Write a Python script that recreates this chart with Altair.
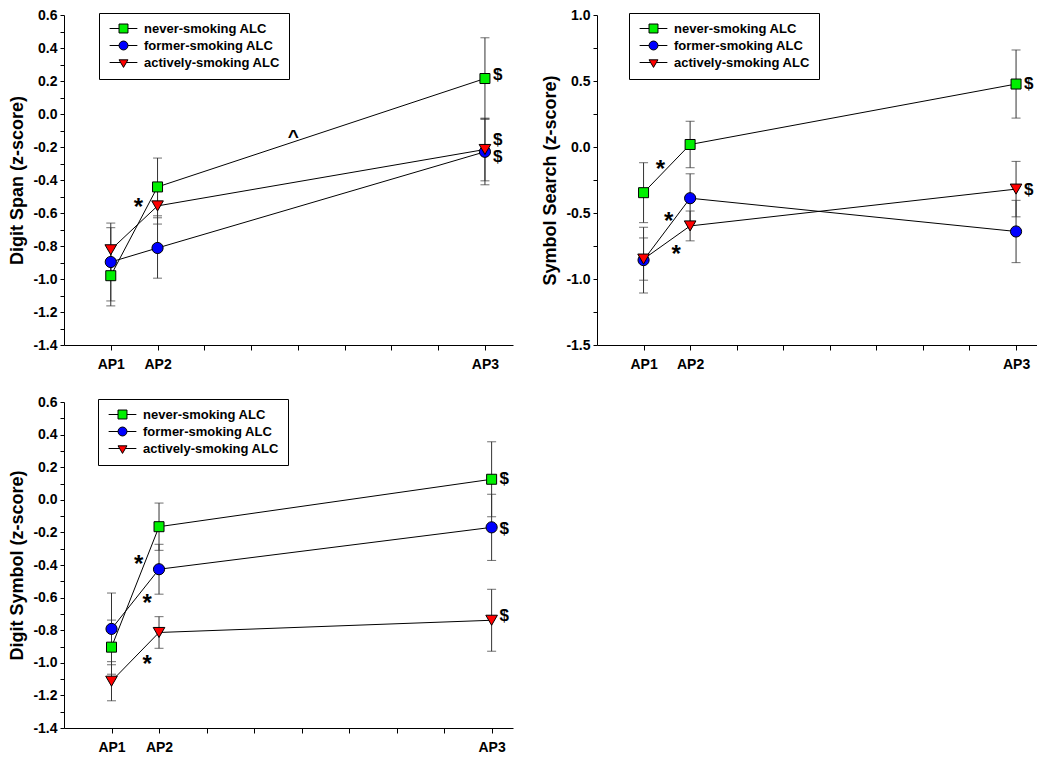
import altair as alt
import pandas as pd

# ---------------- data ----------------
groups = ["never-smoking ALC", "former-smoking ALC", "actively-smoking ALC"]
group_colors = ["#00f000", "#0000ff", "#ff0000"]
group_shapes = ["square", "circle", "triangle-down"]
group_sizes = [100, 125, 135]
legend_paths = [
    "M-3.1,0H-1M1,0H3.1M-1,-1H1V1H-1Z",
    "M-3.1,0H-1M1,0H3.1M-1,0A1,1,0,1,1,1,0A1,1,0,1,1,-1,0Z",
    "M-3.1,0H-0.65M0.65,0H3.1M-1,-0.6L1,-0.6L0,1.1Z",
]
tp_x = [1, 2, 9]
tp_labels = ["AP1", "AP2", "AP3"]

# Digit Span
ds_never = [-0.98, -0.442, 0.215]
ds_never_err = [0.183, 0.175, 0.247]
ds_former = [-0.897, -0.812, -0.229]
ds_former_err = [0.236, 0.183, 0.20]
ds_active = [-0.823, -0.557, -0.215]
ds_active_err = [0.134, 0.11, 0.19]
ds_dollar_y = [0.239, -0.156, -0.259]
ds_star_x = [1.59]
ds_star_y = [-0.531]
ds_caret_x = [4.9]
ds_caret_y = [-0.107]

# Symbol Search
ss_never = [-0.346, 0.019, 0.477]
ss_never_err = [0.227, 0.176, 0.258]
ss_former = [-0.857, -0.388, -0.64]
ss_former_err = [0.249, 0.185, 0.236]
ss_active = [-0.849, -0.598, -0.319]
ss_active_err = [0.16, 0.113, 0.21]
ss_dollar_y = [0.477, -0.326]
ss_star_x = [1.36, 1.54, 1.70]
ss_star_y = [-0.129, -0.524, -0.775]

# Digit Symbol
dsy_never = [-0.904, -0.165, 0.126]
dsy_never_err = [0.166, 0.145, 0.23]
dsy_former = [-0.792, -0.426, -0.169]
dsy_former_err = [0.22, 0.153, 0.203]
dsy_active = [-1.113, -0.814, -0.739]
dsy_active_err = [0.12, 0.097, 0.19]
dsy_dollar_y = [0.126, -0.177, -0.715]
dsy_star_x = [1.57, 1.75, 1.75]
dsy_star_y = [-0.366, -0.605, -0.978]

FONT = "Liberation Sans"
BAR = "#333333"


def panel(means, errs, y_title, y_dom, y_step, x_max, w, h,
          dollar_y, star_x, star_y, legend_xy, caret_x=None, caret_y=None):
    rows = []
    for gi, g in enumerate(groups):
        for ti in range(3):
            m = means[gi][ti]
            e = errs[gi][ti]
            rows.append(dict(group=g, x=tp_x[ti], mean=m, lo=m - e, hi=m + e,
                             fillc=group_colors[gi], shp=group_shapes[gi],
                             sz=group_sizes[gi]))
    df = pd.DataFrame(rows)

    xs = alt.Scale(domain=[0, x_max], nice=False, zero=False)
    ys = alt.Scale(domain=y_dom, nice=False, zero=False)
    lab_expr = " : ".join(
        f"datum.value == {v} ? '{l}'" for v, l in zip(tp_x, tp_labels)) + " : ''"
    xaxis = alt.Axis(values=list(range(1, 10)), labelExpr=lab_expr, title=None,
                     tickSize=5, labelPadding=7, labelOverlap=False)
    n = int(round((y_dom[1] - y_dom[0]) / y_step))
    yvals = [round(y_dom[0] + i * y_step, 3) for i in range(n + 1)]
    k = int(round(1 / y_step))
    yaxis = alt.Axis(values=yvals, title=y_title, tickSize=4, labelPadding=3,
                     labelOverlap=False, titlePadding=6,
                     labelExpr=f"abs(round(datum.value*{k}) % 2) == 0 ? "
                               f"replace(format(datum.value, '.1f'), '\u2212', '-') : ''")

    def X(f="x:Q"):
        return alt.X(f, scale=xs, axis=xaxis)

    def Y(f):
        return alt.Y(f, scale=ys, axis=yaxis)

    base = alt.Chart(df)
    bars = base.mark_rule(color=BAR, strokeWidth=1).encode(x=X(), y=Y("lo:Q"), y2="hi:Q")
    cap_lo = base.mark_tick(orient="horizontal", size=9, thickness=1, color=BAR).encode(
        x=X(), y=Y("lo:Q"))
    cap_hi = base.mark_tick(orient="horizontal", size=9, thickness=1, color=BAR).encode(
        x=X(), y=Y("hi:Q"))
    lines = base.mark_line(color="black", strokeWidth=1).encode(
        x=X(), y=Y("mean:Q"), detail="group:N", order="x:Q")
    pts = base.mark_point(filled=True, stroke="black", strokeWidth=1, opacity=1).encode(
        x=X(), y=Y("mean:Q"),
        fill=alt.Fill("fillc:N", scale=None),
        shape=alt.Shape("shp:N", scale=None),
        size=alt.Size("sz:Q", scale=None),
    )
    leg = base.transform_filter("datum.x > 100").mark_point(
        filled=True, stroke="black", strokeWidth=1, opacity=1, size=80).encode(
        x=X(), y=Y("mean:Q"),
        fill=alt.Fill("group:N", scale=alt.Scale(domain=groups, range=group_colors),
                      legend=alt.Legend(
                          title=None, orient="none", legendX=legend_xy[0], legendY=legend_xy[1],
                          strokeColor="black", fillColor="white", padding=9,
                          labelFont=FONT, labelFontSize=13, labelFontWeight="bold",
                          labelColor="black", symbolOffset=9, labelOffset=14,
                          rowPadding=3, symbolSize=80, symbolStrokeColor="black",
                          symbolStrokeWidth=1)),
        shape=alt.Shape("group:N", scale=alt.Scale(domain=groups, range=legend_paths)),
    )

    ddf = pd.DataFrame({"x": [tp_x[2]] * len(dollar_y), "y": dollar_y,
                        "t": ["$"] * len(dollar_y)})
    dollars = alt.Chart(ddf).mark_text(
        align="left", baseline="middle", dx=8, font=FONT, fontSize=17,
        fontWeight="bold", color="black").encode(x=X(), y=Y("y:Q"), text="t:N")
    sdf = pd.DataFrame({"x": star_x, "y": star_y, "t": ["*"] * len(star_x)})
    stars = alt.Chart(sdf).mark_text(
        align="center", baseline="middle", dy=6, font=FONT, fontSize=24,
        fontWeight="bold", color="black").encode(x=X(), y=Y("y:Q"), text="t:N")
    layers = [bars, cap_lo, cap_hi, lines, pts, leg, dollars, stars]
    if caret_x:
        cdf = pd.DataFrame({"x": caret_x, "y": caret_y, "t": ["^"] * len(caret_x)})
        layers.append(alt.Chart(cdf).mark_text(
            align="center", baseline="middle", dy=5, font=FONT, fontSize=19,
            fontWeight="bold", color="black").encode(x=X(), y=Y("y:Q"), text="t:N"))
    return alt.layer(*layers).resolve_scale(fill="independent", shape="independent",
                                            size="independent").properties(width=w, height=h)


p1 = panel([ds_never, ds_former, ds_active], [ds_never_err, ds_former_err, ds_active_err],
           "Digit Span (z-score)", [-1.4, 0.6], 0.1, 9.6, 449, 330,
           ds_dollar_y, ds_star_x, ds_star_y, (35, -2), ds_caret_x, ds_caret_y)
p2 = panel([ss_never, ss_former, ss_active], [ss_never_err, ss_former_err, ss_active_err],
           "Symbol Search (z-score)", [-1.5, 1.0], 0.25, 9.45, 440, 330,
           ss_dollar_y, ss_star_x, ss_star_y, (32, -2))
p3 = panel([dsy_never, dsy_former, dsy_active], [dsy_never_err, dsy_former_err, dsy_active_err],
           "Digit Symbol (z-score)", [-1.4, 0.6], 0.1, 9.45, 449, 326,
           dsy_dollar_y, dsy_star_x, dsy_star_y, (34, -3))

top = alt.hconcat(p1, p2, spacing=28).resolve_scale(
    fill="independent", shape="independent", size="independent")
chart = alt.vconcat(top, p3, spacing=24).resolve_scale(
    fill="independent", shape="independent", size="independent").properties(
    padding=0).configure_view(stroke=None).configure_axis(
    grid=False, domainColor="black", tickColor="black", labelColor="black",
    titleColor="black", labelFont=FONT, titleFont=FONT, labelFontSize=14,
    labelFontWeight="bold", titleFontSize=18, titleFontWeight="bold")

chart.save("out.html", embed_options={"renderer": "svg", "actions": False})
